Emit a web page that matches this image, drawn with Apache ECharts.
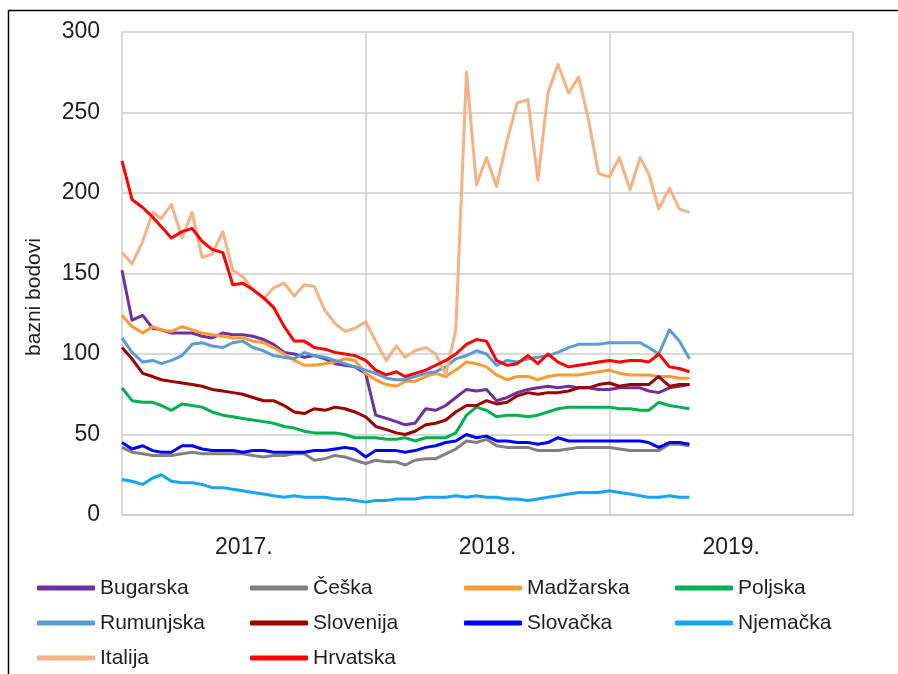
<!DOCTYPE html>
<html><head><meta charset="utf-8">
<script src="https://cdn.jsdelivr.net/npm/echarts@6/dist/echarts.min.js"></script>
<style>html,body{margin:0;padding:0;background:#fff}#c{width:898px;height:674px}</style>
</head><body><div id="c"></div>
<script>
const dates = [
 '2017-01-01','2017-01-16','2017-02-01','2017-02-16','2017-03-01','2017-03-16','2017-04-01','2017-04-16','2017-05-01','2017-05-16','2017-06-01','2017-06-16',
 '2017-07-01','2017-07-16','2017-08-01','2017-08-16','2017-09-01','2017-09-16','2017-10-01','2017-10-16','2017-11-01','2017-11-16','2017-12-01','2017-12-16',
 '2018-01-01','2018-01-16','2018-02-01','2018-02-16','2018-03-01','2018-03-16','2018-04-01','2018-04-16','2018-05-01','2018-05-16','2018-06-01','2018-06-16',
 '2018-07-01','2018-07-16','2018-08-01','2018-08-16','2018-09-01','2018-09-16','2018-10-01','2018-10-16','2018-11-01','2018-11-16','2018-12-01','2018-12-16',
 '2019-01-01','2019-01-16','2019-02-01','2019-02-16','2019-03-01','2019-03-16','2019-04-01','2019-04-16','2019-05-01'
];
const yearLabels = ['2017.', '2018.', '2019.'];
const seriesNames = ['Bugarska','Češka','Madžarska','Poljska','Rumunjska','Slovenija','Slovačka','Njemačka','Italija','Hrvatska'];
const seriesColors = ['#7030A0','#808080','#FF9933','#00B050','#5B9BD5','#990000','#0000FF','#14A5F5','#F4B183','#FF0000'];

const bugarska = [152,121,124,116,115,113,113,113,111,110,113,112,112,111,109,106,101,100,98,99,97,94,93,92,
 88,62,60,58,56,57,66,65,68,73,78,77,78,71,73,76,78,79,80,79,80,79,79,78,
 78,79,79,79,77,76,79,80,81];
const ceska = [42,39,38,37,37,37,38,39,38,38,38,38,38,37,36,37,37,38,38,34,35,37,36,34,
 32,34,33,33,31,34,35,35,38,41,46,45,47,43,42,42,42,40,40,40,41,42,42,42,
 42,41,40,40,40,40,44,44,43];
const madzarska = [124,117,113,117,115,114,117,115,113,112,111,110,110,108,107,104,100,96,93,93,94,95,97,96,
 88,84,81,80,83,83,86,88,86,90,95,94,92,87,84,86,86,84,86,87,87,87,88,89,
 90,88,87,87,87,86,86,85,85];
const poljska = [79,71,70,70,68,65,69,68,67,64,62,61,60,59,58,57,55,54,52,51,51,51,50,48,
 48,48,47,47,48,46,48,48,48,51,62,67,65,61,62,62,61,62,64,66,67,67,67,67,
 67,66,66,65,65,70,68,67,66];
const rumunjska = [110,101,95,96,94,96,99,106,107,105,104,107,108,104,102,99,98,97,101,99,98,96,94,92,
 90,88,85,84,84,86,88,89,92,97,99,102,100,93,96,95,97,98,99,101,104,106,106,106,
 107,107,107,107,104,100,115,108,97];
const slovenija = [104,97,88,86,84,83,82,81,80,78,77,76,75,73,71,71,68,64,63,66,65,67,66,64,
 61,55,53,51,50,52,56,57,59,64,68,68,71,69,70,74,76,75,76,76,77,79,79,81,
 82,80,81,81,81,86,80,81,81];
const slovacka = [45,41,43,40,39,39,43,43,41,40,40,40,39,40,40,39,39,39,39,40,40,41,42,41,
 36,40,40,40,39,40,42,43,45,46,50,48,49,46,46,45,45,44,45,48,46,46,46,46,
 46,46,46,46,45,42,45,45,44];
const njemacka = [22,21,19,23,25,21,20,20,19,17,17,16,15,14,13,12,11,12,11,11,11,10,10,9,
 8,9,9,10,10,10,11,11,11,12,11,12,11,11,10,10,9,10,11,12,13,14,14,14,
 15,14,13,12,11,11,12,11,11];
const italija = [163,156,170,188,184,193,172,188,160,162,176,152,148,140,134,141,144,136,143,142,127,119,114,116,
 120,108,96,105,98,102,104,100,87,115,275,205,222,204,233,256,258,208,262,280,262,272,245,212,
 210,222,202,222,212,190,203,190,188];
const hrvatska = [220,196,191,185,179,172,176,178,170,165,163,143,144,140,135,129,117,108,108,104,103,101,100,99,
 96,90,87,89,86,88,90,93,96,100,106,109,108,96,93,94,99,94,100,95,92,93,94,95,
 96,95,96,96,95,100,92,91,89];

const allValues = [bugarska, ceska, madzarska, poljska, rumunjska, slovenija, slovacka, njemacka, italija, hrvatska];

function toYear(s) {
  const d = new Date(s + 'T00:00:00Z');
  const y = d.getUTCFullYear();
  const start = Date.UTC(y, 0, 1), end = Date.UTC(y + 1, 0, 1);
  return y + (d.getTime() - start) / (end - start);
}
const xs = dates.map(toYear);

const FONT = '"Liberation Sans", Arial, sans-serif';
const chart = echarts.init(document.getElementById('c'), null, {renderer: 'canvas'});

const series = seriesNames.map((name, k) => ({
  name: name,
  type: 'line',
  xAxisIndex: 0,
  yAxisIndex: 0,
  symbol: 'none',
  smooth: false,
  color: seriesColors[k],
  lineStyle: {width: 3, color: seriesColors[k], join: 'round'},
  data: xs.map((x, i) => [x, allValues[k][i]]),
  z: 2 + k
}));

const legendCommon = {
  orient: 'vertical',
  top: 577,
  itemWidth: 58,
  itemHeight: 5,
  icon: 'roundRect',
  itemGap: 13,
  padding: 0,
  textStyle: {fontSize: 21, fontFamily: FONT, color: '#1f1f1f', lineHeight: 22, padding: [0, 0, 0, 0]}
};

chart.setOption({
  animation: false,
  backgroundColor: '#fff',
  grid: {left: 122, right: 45, top: 32, bottom: 159, containLabel: false},
  xAxis: [
    {
      type: 'value', min: 2017, max: 2020, interval: 1,
      axisLine: {show: true, lineStyle: {color: '#cccccc', width: 1.5}},
      axisTick: {show: false},
      axisLabel: {show: false},
      splitLine: {show: true, lineStyle: {color: '#cccccc', width: 1.5}}
    },
    {
      type: 'category', position: 'bottom', data: yearLabels, boundaryGap: true,
      axisLine: {show: false}, axisTick: {show: false},
      axisLabel: {fontSize: 23, fontFamily: FONT, color: '#1f1f1f', margin: 21},
      splitLine: {show: false}
    }
  ],
  yAxis: {
    type: 'value', min: 0, max: 300, interval: 50,
    axisLine: {show: false}, axisTick: {show: false},
    axisLabel: {fontSize: 23, fontFamily: FONT, color: '#1f1f1f', margin: 22},
    splitLine: {show: true, lineStyle: {color: '#cccccc', width: 1.5}}
  },
  legend: [
    Object.assign({left: 37, data: ['Bugarska', 'Rumunjska', 'Italija']}, legendCommon),
    Object.assign({left: 250, data: ['Češka', 'Slovenija', 'Hrvatska']}, legendCommon),
    Object.assign({left: 464, data: ['Madžarska', 'Slovačka']}, legendCommon),
    Object.assign({left: 675, data: ['Poljska', 'Njemačka']}, legendCommon)
  ],
  graphic: [
    {type: 'rect', shape: {x: 8.5, y: 10.5, width: 1000, height: 1000}, style: {fill: 'none', stroke: '#000', lineWidth: 1.5}, silent: true, z: 100},
    {type: 'text', x: 34, y: 297, rotation: Math.PI / 2,
     style: {text: 'bazni bodovi', fontSize: 21, fontFamily: FONT, fill: '#1f1f1f', align: 'center', verticalAlign: 'middle'}}
  ],
  series: series
});
</script>
</body></html>
